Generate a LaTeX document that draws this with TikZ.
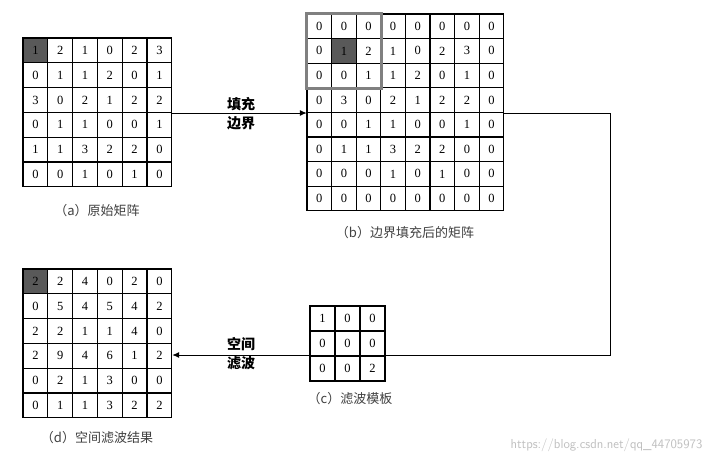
\documentclass[tikz,border=0pt]{standalone}
\usepackage{fontspec}
\setmainfont{Liberation Serif}
\newfontfamily\cjk{Noto Sans CJK SC}
\usetikzlibrary{arrows.meta}
\begin{document}
\begin{tikzpicture}[x=1pt,y=-1pt,
  cell/.style={draw,line width=1.1pt,minimum size=#1,inner sep=0pt,font=\fontsize{12.5}{12.5}\selectfont},
  frame/.style={minimum size=#1,inner sep=0pt},
  captext/.style={font=\cjk\fontsize{13}{13}\selectfont,text=black!75},
  lab/.style={font=\cjk\bfseries\fontsize{14}{19}\selectfont,align=center},
  conn/.style={line width=1pt,-{Latex[length=7pt,width=6pt]}}]
\useasboundingbox (0,0) rectangle (714,466);
\fill[white] (0,0) rectangle (714,466);
% dark cells
\fill[black!65] (23,38) rectangle ++(24.8,24.8);
\fill[black!65] (23,269) rectangle ++(24.8,24.8);
\fill[black!65] (331.6,38.6) rectangle ++(24.6,24.6);
% (a)
\node[frame=149pt] (A) at (97.5,113) {};
\foreach \row [count=\i] in {{1,2,1,0,2,3},{0,1,1,2,0,1},{3,0,2,1,2,2},{0,1,1,0,0,1},{1,1,3,2,2,0},{0,0,1,0,1,0}}
  \foreach \v [count=\j] in \row
    \node[cell=24.8pt] (a-\i-\j) at ({23+(\j-0.5)*24.8},{38+(\i-0.5)*24.8}) {\v};
\node[captext] (capa) at (97,211) {（a）原始矩阵};
% (b)
\node[frame=197pt] (B) at (405.5,113) {};
\foreach \row [count=\i] in {{0,0,0,0,0,0,0,0},{0,1,2,1,0,2,3,0},{0,0,1,1,2,0,1,0},{0,3,0,2,1,2,2,0},{0,0,1,1,0,0,1,0},{0,1,1,3,2,2,0,0},{0,0,0,1,0,1,0,0},{0,0,0,0,0,0,0,0}}
  \foreach \v [count=\j] in \row
    \node[cell=24.6pt] (b-\i-\j) at ({307+(\j-0.5)*24.6},{14+(\i-0.5)*24.6}) {\v};
\draw[black!50,line width=2.5pt] (b-1-1.north west) rectangle (b-3-3.south east);
\node[captext] (capb) at (405,233) {（b）边界填充后的矩阵};
% connector b -> d (drawn before c so c covers it)
\coordinate (r1) at (610,113);
\coordinate (r2) at (610,355);
\node[frame=149pt] (D) at (97.5,343.5) {};
\draw[conn] (B.east) -- (r1) -- (r2) -- (r2 -| D.east);
% (c)
\foreach \row [count=\i] in {{1,0,0},{0,0,0},{0,0,2}}
  \foreach \v [count=\j] in \row
    \node[cell=25pt,fill=white] (c-\i-\j) at ({310+(\j-0.5)*25},{306+(\i-0.5)*25}) {\v};
\node[captext] (capc) at (350,399) {（c）滤波模板};
% (d)
\foreach \row [count=\i] in {{2,2,4,0,2,0},{0,5,4,5,4,2},{2,2,1,1,4,0},{2,9,4,6,1,2},{0,2,1,3,0,0},{0,1,1,3,2,2}}
  \foreach \v [count=\j] in \row
    \node[cell=24.8pt] (d-\i-\j) at ({23+(\j-0.5)*24.8},{269+(\i-0.5)*24.8}) {\v};
\node[captext] (capd) at (97,438) {（d）空间滤波结果};
% a -> b
\draw[conn] (A.east) -- (A.east -| B.west);
\node[lab] (l1) at (241,114) {填充\\边界};
\node[lab] (l2) at (241,354) {空间\\滤波};
\node[font=\fontsize{13}{13}\selectfont\sffamily,text=black!25,anchor=east] (wm) at (706,445) {https://blog.csdn.net/qq\_44705973};
\end{tikzpicture}
\end{document}
